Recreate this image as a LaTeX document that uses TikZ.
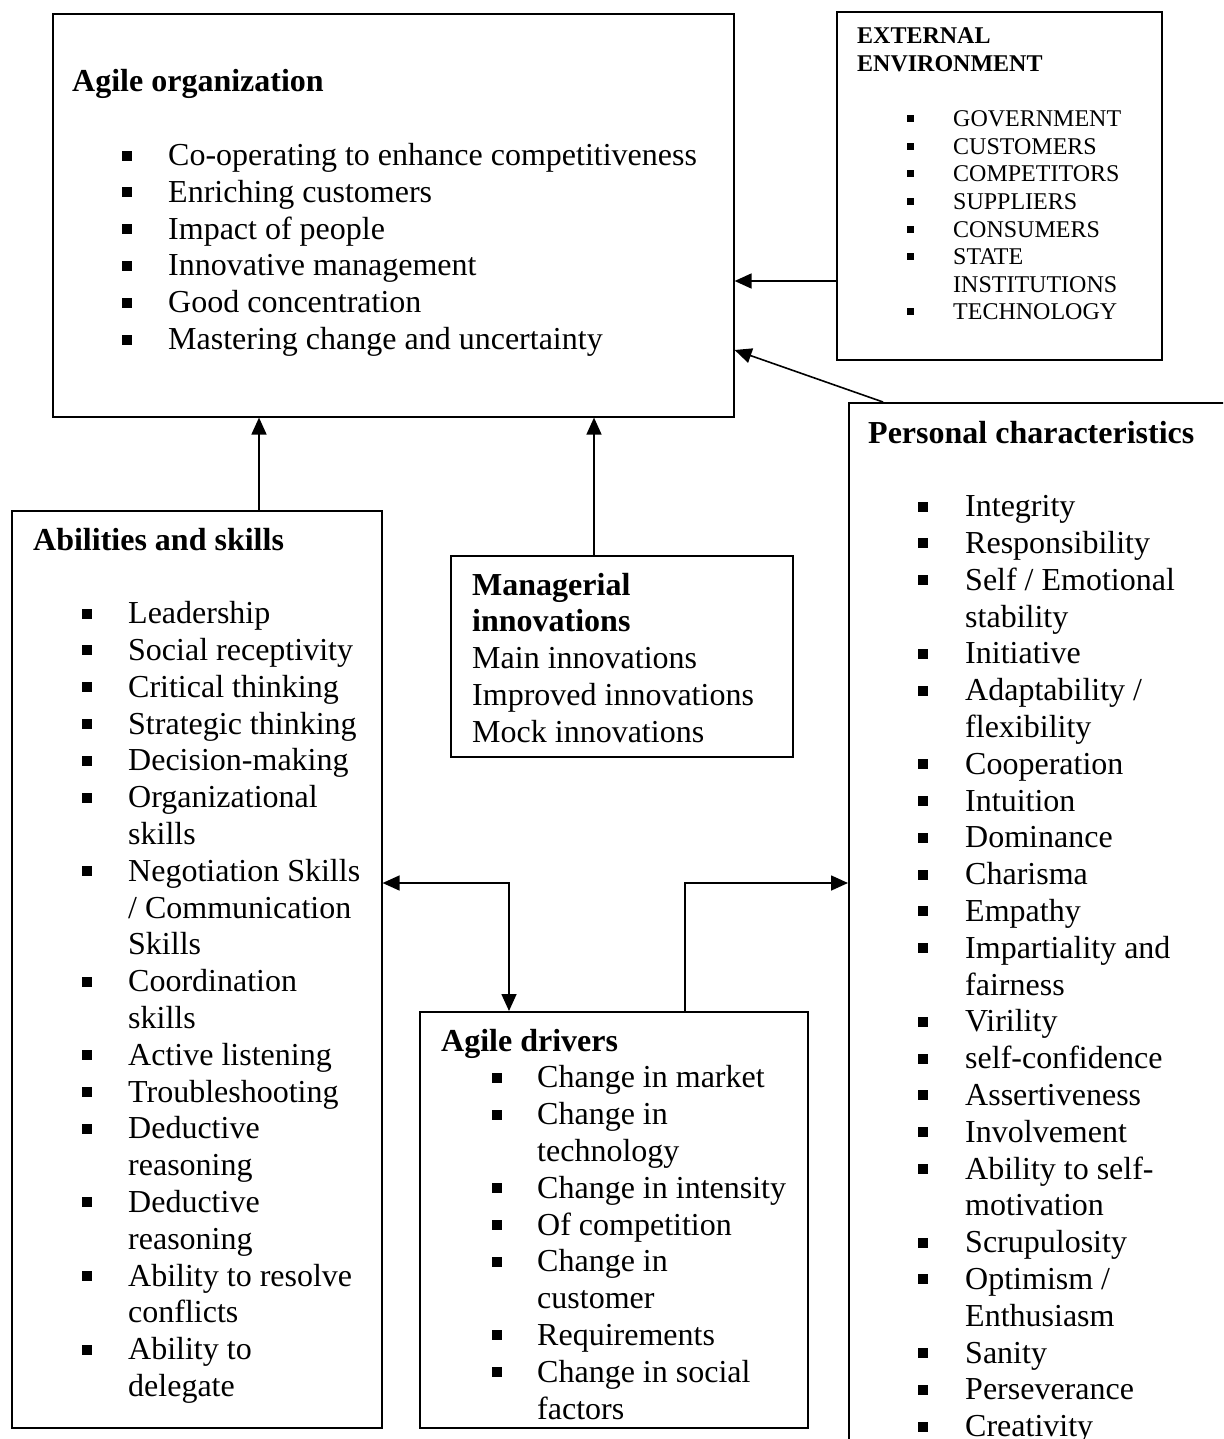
\documentclass[tikz,border=0pt]{standalone}
\usepackage{fontspec}
\setmainfont{Liberation Serif}
\usetikzlibrary{arrows.meta}
\newcommand\blt{\rule[5pt]{10pt}{10pt}}
\newcommand\sblt{\rule[4.5pt]{7pt}{7pt}}
\tikzset{
  box/.style={draw, line width=1.6pt, anchor=north west, inner sep=0pt},
  txt/.style={anchor=base west, inner sep=0pt, font=\fontsize{32}{36.8}\selectfont},
  stxt/.style={anchor=base west, inner sep=0pt, font=\fontsize{24}{27.6}\selectfont},
  arr/.style={line width=1.6pt, -{Triangle[length=17pt,width=15pt]}},
  darr/.style={line width=1.6pt, {Triangle[length=17pt,width=15pt]}-{Triangle[length=17pt,width=15pt]}},
}
\begin{document}
\begin{tikzpicture}[x=1pt,y=-1pt]
\useasboundingbox (0,0) rectangle (1223,1439);
\clip (0,0) rectangle (1223,1439);
\fill[white] (0,0) rectangle (1223,1439);

% boxes
\node[box, minimum width=681pt, minimum height=403pt] (ao) at (52,13) {};
\node[box, minimum width=325pt, minimum height=348pt] (ext) at (836,11) {};
\node[box, minimum width=420pt, minimum height=1100pt] (pc) at (848,402) {};
\node[box, minimum width=370pt, minimum height=917pt] (abs) at (11,510) {};
\node[box, minimum width=342pt, minimum height=201pt] (mi) at (450,555) {};
\node[box, minimum width=388pt, minimum height=416pt] (ad) at (419,1011) {};

% texts
\node[txt] (aotxt) at (72,92) {\begin{tabular}[t]{@{\hspace{50pt}}l@{\hspace{36pt}}l@{}}
\multicolumn{2}{@{}l@{}}{\bfseries Agile organization}\\
\\
\blt & Co-operating to enhance competitiveness\\
\blt & Enriching customers\\
\blt & Impact of people\\
\blt & Innovative management\\
\blt & Good concentration\\
\blt & Mastering change and uncertainty
\end{tabular}};

\node[stxt] (exttxt) at (857,44) {\begin{tabular}[t]{@{\hspace{50pt}}l@{\hspace{39pt}}l@{}}
\multicolumn{2}{@{}l@{}}{\bfseries EXTERNAL}\\
\multicolumn{2}{@{}l@{}}{\bfseries ENVIRONMENT}\\
\\
\sblt & GOVERNMENT\\
\sblt & CUSTOMERS\\
\sblt & COMPETITORS\\
\sblt & SUPPLIERS\\
\sblt & CONSUMERS\\
\sblt & STATE\\
 & INSTITUTIONS\\
\sblt & TECHNOLOGY
\end{tabular}};

\node[txt] (pctxt) at (868,443) {\begin{tabular}[t]{@{\hspace{50pt}}l@{\hspace{37pt}}l@{}}
\multicolumn{2}{@{}l@{}}{\bfseries Personal characteristics}\\
\\
\blt & Integrity\\
\blt & Responsibility\\
\blt & Self / Emotional\\
 & stability\\
\blt & Initiative\\
\blt & Adaptability /\\
 & flexibility\\
\blt & Cooperation\\
\blt & Intuition\\
\blt & Dominance\\
\blt & Charisma\\
\blt & Empathy\\
\blt & Impartiality and\\
 & fairness\\
\blt & Virility\\
\blt & self-confidence\\
\blt & Assertiveness\\
\blt & Involvement\\
\blt & Ability to self-\\
 & motivation\\
\blt & Scrupulosity\\
\blt & Optimism /\\
 & Enthusiasm\\
\blt & Sanity\\
\blt & Perseverance\\
\blt & Creativity
\end{tabular}};

\node[txt] (abstxt) at (33,550) {\begin{tabular}[t]{@{\hspace{49pt}}l@{\hspace{36pt}}l@{}}
\multicolumn{2}{@{}l@{}}{\bfseries Abilities and skills}\\
\\
\blt & Leadership\\
\blt & Social receptivity\\
\blt & Critical thinking\\
\blt & Strategic thinking\\
\blt & Decision-making\\
\blt & Organizational\\
 & skills\\
\blt & Negotiation Skills\\
 & / Communication\\
 & Skills\\
\blt & Coordination\\
 & skills\\
\blt & Active listening\\
\blt & Troubleshooting\\
\blt & Deductive\\
 & reasoning\\
\blt & Deductive\\
 & reasoning\\
\blt & Ability to resolve\\
 & conflicts\\
\blt & Ability to\\
 & delegate
\end{tabular}};

\node[txt] (mitxt) at (472,595) {\begin{tabular}[t]{@{}l@{}}
\bfseries Managerial\\
\bfseries innovations\\
Main innovations\\
Improved innovations\\
Mock innovations
\end{tabular}};

\node[txt] (adtxt) at (441,1051) {\begin{tabular}[t]{@{\hspace{51pt}}l@{\hspace{35pt}}l@{}}
\multicolumn{2}{@{}l@{}}{\bfseries Agile drivers}\\
\blt & Change in market\\
\blt & Change in\\
 & technology\\
\blt & Change in intensity\\
\blt & Of competition\\
\blt & Change in\\
 & customer\\
\blt & Requirements\\
\blt & Change in social\\
 & factors
\end{tabular}};

% connectors
\draw[arr] (ext.west |- 0,281) -- (ao.east |- 0,281);
\draw[arr] ([xshift=35pt]pc.north west) -- (ao.east |- 0,350);
\draw[arr] (259,0 |- abs.north) -- (259,0 |- ao.south);
\draw[arr] (594,0 |- mi.north) -- (594,0 |- ao.south);
\draw[darr] (abs.east |- 0,883) -- (509,883) -- (509,0 |- ad.north);
\draw[arr] (685,0 |- ad.north) -- (685,883) -- (pc.west |- 0,883);
\end{tikzpicture}
\end{document}
